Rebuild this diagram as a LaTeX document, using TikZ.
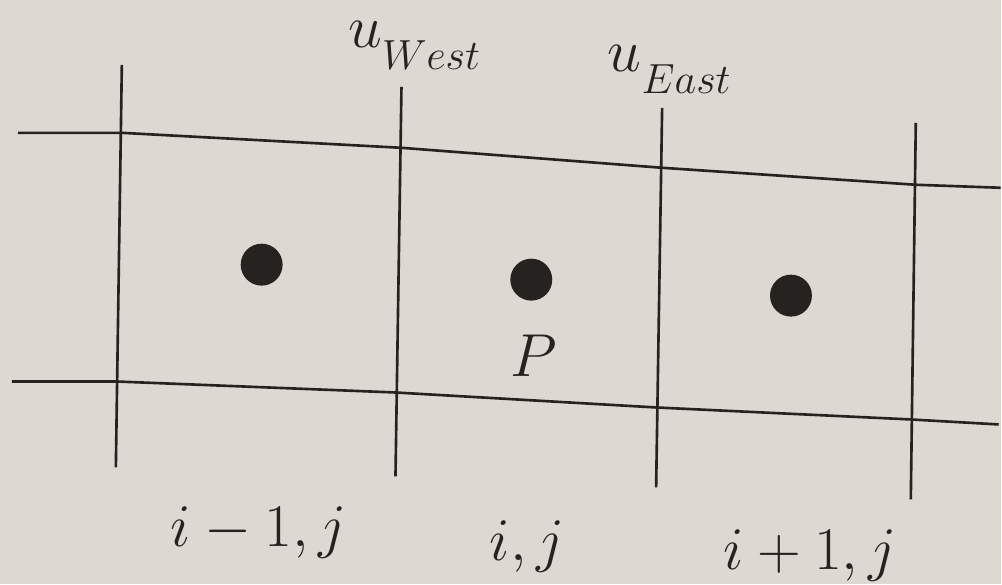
\documentclass[tikz,border=0pt]{standalone}
\usepackage{amsmath}
\usepackage{tikz}
\definecolor{paper}{RGB}{221,216,209}
\definecolor{ink}{RGB}{38,34,32}
% индекс, опущенный ниже обычного
\newcommand{\lowsub}[1]{\lower3.5pt\hbox{$\scriptstyle #1$}}

\begin{document}
\begin{tikzpicture}[x=0.1mm, y=-0.1mm,
	gridline/.style={ink, line width=0.75pt},
	cellpt/.style={circle, fill=ink, inner sep=0pt, minimum size=4.2mm},
	lbl/.style={text=ink, font=\LARGE, inner sep=0pt}]
	% фон (лист)
	\fill[paper] (0,0) rectangle (1002,585);

	% концы вертикальных линий
	\coordinate (v1t) at (122,65);  \coordinate (v1b) at (116,468);
	\coordinate (v2t) at (402,87);  \coordinate (v2b) at (396,477);
	\coordinate (v3t) at (663,108); \coordinate (v3b) at (657,488);
	\coordinate (v4t) at (917,123); \coordinate (v4b) at (912,500);

	% точки горизонтальных линий
	\coordinate (hn0) at (18,133);  \coordinate (hn5) at (1002,188);
	\coordinate (hn1) at (122,133); \coordinate (hn2) at (402,148);
	\coordinate (hn3) at (663,168); \coordinate (hn4) at (917,185);
	\coordinate (hs0) at (12,382);  \coordinate (hs5) at (1000,425);
	\coordinate (hs1) at (117,382); \coordinate (hs2) at (396,393);
	\coordinate (hs3) at (657,408); \coordinate (hs4) at (912,420);

	% сетка
	\draw[gridline] (hn0) -- (hn1) -- (hn2) -- (hn3) -- (hn4) -- (hn5);
	\draw[gridline] (hs0) -- (hs1) -- (hs2) -- (hs3) -- (hs4) -- (hs5);
	\draw[gridline] (v1t) -- (v1b);
	\draw[gridline] (v2t) -- (v2b);
	\draw[gridline] (v3t) -- (v3b);
	\draw[gridline] (v4t) -- (v4b);

	% центры ячеек
	\node[cellpt] (west) at (262,265) {};
	\node[cellpt] (pnt)  at (532,280) {};
	\node[cellpt] (east) at (792,296) {};

	% подписи
	\node[lbl, anchor=base west] (uw) at (348,48) {$u_{\lowsub{West}}$};
	\node[lbl, anchor=base west] (ue) at (608,72) {$u_{\lowsub{East}}$};
	\node[lbl, anchor=base west] (lp) at (510,377) {$P$};
	\node[lbl, anchor=base] (lw) at (259,547) {$i-1,j$};
	\node[lbl, anchor=base] (lc) at (528,561) {$i,j$};
	\node[lbl, anchor=base] (le) at (811,570) {$i+1,j$};
\end{tikzpicture}
\end{document}
